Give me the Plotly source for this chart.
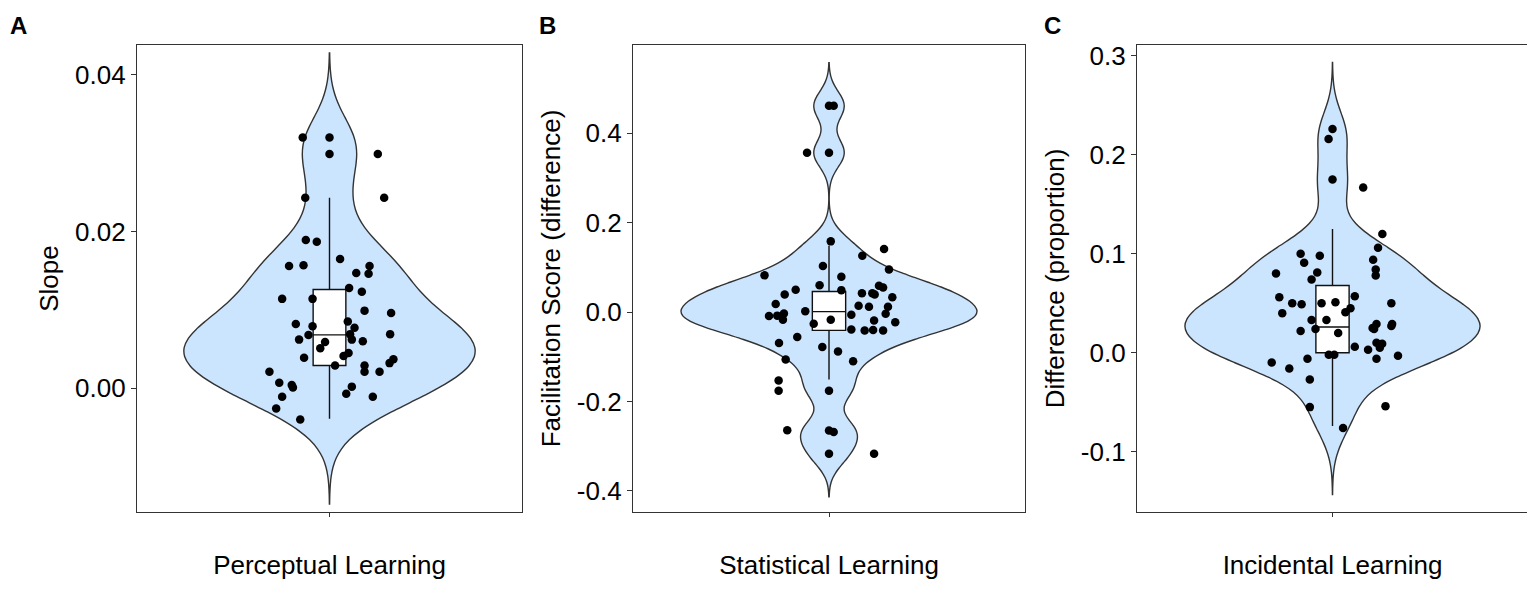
import numpy as np
import plotly.graph_objects as go

# ---------------- data ----------------
categories = ["Perceptual Learning", "Statistical Learning", "Incidental Learning"]
y_titles = ["Slope", "Facilitation Score (difference)", "Difference (proportion)"]
panel_letters = ["A", "B", "C"]

# Panel A: slope values and their horizontal jitter offsets
slope_vals = [0.0320, 0.0320, 0.0299, 0.0299, 0.0243, 0.0243, 0.0189, 0.0187, 0.0165,
              0.0156, 0.0157, 0.0156, 0.0147, 0.0146, 0.0128, 0.0123, 0.0114, 0.0114,
              0.0099, 0.0096, 0.0082, 0.0079, 0.0085, 0.0077, 0.0068, 0.0069, 0.0069,
              0.0062, 0.0062, 0.0060, 0.0059, 0.0051, 0.0045, 0.0041, 0.0039, 0.0037,
              0.0032, 0.0029, 0.0029, 0.0021, 0.0021, 0.0021, 0.0007, 0.0004, 0.0001,
              0.0002, -0.0007, -0.0011, -0.0011, -0.0026, -0.0040]
slope_jit = [-0.139, 0.0, 0.0, 0.251, -0.126, 0.284, -0.123, -0.066, 0.055,
             -0.210, -0.135, 0.208, 0.139, 0.203, 0.102, 0.168, -0.246, -0.088,
             0.182, 0.320, -0.175, -0.088, 0.095, 0.130, -0.109, 0.107, 0.315,
             -0.158, 0.116, 0.173, -0.023, -0.048, 0.099, 0.073, -0.132, 0.332,
             0.312, 0.029, 0.182, 0.182, -0.312, 0.260, -0.261, -0.196, -0.190,
             0.116, 0.087, -0.246, 0.225, -0.277, -0.152]

# Panel B: facilitation scores and jitter offsets
facil_vals = [0.461, 0.461, 0.356, 0.356, 0.158, 0.141, 0.126, 0.103, 0.095, 0.082,
              0.079, 0.060, 0.059, 0.055, 0.050, 0.049, 0.039, 0.042, 0.042, 0.039,
              0.033, 0.018, 0.014, 0.012, 0.012, 0.002, -0.006, -0.009, -0.008, -0.003,
              -0.017, -0.004, -0.017, -0.019, -0.023, -0.026, -0.039, -0.041, -0.040,
              -0.041, -0.056, -0.069, -0.078, -0.088, -0.106, -0.110, -0.153, -0.176,
              -0.176, -0.264, -0.265, -0.268, -0.317, -0.317]
facil_jit = [0.0, 0.024, 0.0, -0.112, 0.009, 0.281, 0.170, -0.031, 0.306, -0.329,
             0.063, -0.048, 0.255, 0.276, -0.170, 0.063, -0.226, 0.168, 0.221, 0.233,
             0.323, -0.272, 0.151, 0.204, 0.301, -0.121, 0.114, -0.306, -0.264, -0.230,
             -0.235, 0.289, 0.009, 0.230, 0.338, -0.078, 0.114, 0.182, 0.225,
             0.276, -0.162, -0.255, -0.034, 0.046, -0.221, 0.123, -0.257, -0.257,
             0.0, -0.213, 0.0, 0.024, 0.0, 0.230]

# Panel C: difference (proportion) and jitter offsets
diff_vals = [0.226, 0.216, 0.175, 0.167, 0.120, 0.106, 0.100, 0.098, 0.091, 0.094,
             0.084, 0.078, 0.080, 0.081, 0.074, 0.057, 0.056, 0.050, 0.049, 0.050,
             0.051, 0.050, 0.045, 0.041, 0.040, 0.033, 0.033, 0.029, 0.029, 0.025,
             0.024, 0.027, 0.022, 0.024, 0.020, 0.006, 0.010, 0.009, 0.005, 0.003,
             -0.002, -0.002, -0.003, -0.006, -0.006, -0.010, -0.016, -0.027, -0.055,
             -0.054, -0.076]
diff_jit = [0.0, -0.020, 0.0, 0.157, 0.255, 0.233, -0.163, -0.065, -0.145, 0.208,
            0.221, 0.221, -0.289, -0.078, -0.107, 0.114, -0.272, -0.206, -0.158, -0.056,
            0.015, 0.301, 0.092, 0.066, -0.257, -0.107, -0.031, 0.225, 0.305, 0.205,
            0.213, 0.301, -0.163, -0.087, 0.029, 0.114, 0.225, 0.254, 0.242, 0.182,
            -0.019, 0.009, 0.335, -0.128, 0.225, -0.311, -0.221, -0.116, -0.116,
            0.271, 0.054]

# Box statistics: q1, median, q3, lower whisker, upper whisker
box_q1 = [0.0029, -0.041, 0.000]
box_median = [0.0068, 0.001, 0.026]
box_q3 = [0.0126, 0.046, 0.068]
box_low = [-0.0039, -0.151, -0.074]
box_high = [0.0243, 0.148, 0.125]

# Axis ticks and ranges
y_tickvals = [[0.00, 0.02, 0.04], [-0.4, -0.2, 0.0, 0.2, 0.4], [-0.1, 0.0, 0.1, 0.2, 0.3]]
y_ticktext = [["0.00", "0.02", "0.04"], ["-0.4", "-0.2", "0.0", "0.2", "0.4"],
              ["-0.1", "0.0", "0.1", "0.2", "0.3"]]
y_ranges = [[-0.0158, 0.0438], [-0.447, 0.597], [-0.161, 0.311]]

values = [slope_vals, facil_vals, diff_vals]
jitters = [slope_jit, facil_jit, diff_jit]

# ---------------- styling ----------------
FONT = "Liberation Sans, Arial, sans-serif"
VIOLIN_FILL = "#cce5ff"
OUTLINE = "#333333"
W, H = 1535, 589
OFF = 8  # page body margin
frames_x = [(137, 522), (633, 1025), (1137, 1528)]
x_domains = [[(a - OFF) / W, min((b - OFF) / W, 1.0)] for a, b in frames_x]
y_domain = [1 - (512 - OFF) / H, 1 - (45 - OFF) / H]


def nrd0(v):
    v = np.asarray(v, dtype=float)
    sd = np.std(v, ddof=1)
    iqr = np.percentile(v, 75) - np.percentile(v, 25)
    lo = min(sd, iqr / 1.34)
    return 0.9 * lo * len(v) ** (-0.2)


fig = go.Figure()

for i in range(3):
    xa = "x" if i == 0 else f"x{i+1}"
    ya = "y" if i == 0 else f"y{i+1}"
    vals = values[i]
    bw = nrd0(vals)
    fig.add_trace(go.Violin(
        y=vals, x=[0.0] * len(vals), xaxis=xa, yaxis=ya,
        bandwidth=bw, spanmode="manual", span=[min(vals) - 3 * bw, max(vals) + 3 * bw],
        width=1.51, scalemode="width", points=False,
        fillcolor=VIOLIN_FILL, line=dict(color=OUTLINE, width=1.4),
        box_visible=False, meanline_visible=False, showlegend=False, hoverinfo="skip",
    ))
    fig.add_trace(go.Box(
        x=[0.0], q1=[box_q1[i]], median=[box_median[i]], q3=[box_q3[i]],
        lowerfence=[box_low[i]], upperfence=[box_high[i]],
        xaxis=xa, yaxis=ya, width=0.17, whiskerwidth=0,
        fillcolor="white", line=dict(color="#111111", width=1.4),
        boxpoints=False, showlegend=False, hoverinfo="skip",
    ))
    fig.add_trace(go.Scatter(
        x=jitters[i], y=vals, xaxis=xa, yaxis=ya, mode="markers",
        marker=dict(color="black", size=8.5), showlegend=False, hoverinfo="skip",
    ))

layout = dict(
    width=W, height=H,
    margin=dict(l=0, r=0, t=0, b=0),
    paper_bgcolor="white", plot_bgcolor="white",
    font=dict(family=FONT, color="black", size=26),
    violinmode="overlay", boxmode="overlay",
)

for i in range(3):
    xk = "xaxis" if i == 0 else f"xaxis{i+1}"
    yk = "yaxis" if i == 0 else f"yaxis{i+1}"
    ya_ref = "y" if i == 0 else f"y{i+1}"
    xa_ref = "x" if i == 0 else f"x{i+1}"
    layout[xk] = dict(
        domain=x_domains[i], anchor=ya_ref, range=[-1, 1],
        tickvals=[0], ticktext=[""], ticks="outside", ticklen=4, tickcolor=OUTLINE,
        showline=True, mirror=True, linecolor=OUTLINE, linewidth=1.3,
        showgrid=False, zeroline=False, automargin=False,
        title=dict(text=categories[i], font=dict(size=26, family=FONT), standoff=34),
    )
    layout[yk] = dict(
        domain=y_domain, anchor=xa_ref, range=y_ranges[i],
        tickvals=y_tickvals[i], ticktext=y_ticktext[i],
        ticks="outside", ticklen=5, tickcolor=OUTLINE,
        tickfont=dict(size=26, family=FONT),
        showline=True, mirror=True, linecolor=OUTLINE, linewidth=1.3,
        showgrid=False, zeroline=False, automargin=False,
        title=dict(text=y_titles[i], font=dict(size=26, family=FONT), standoff=8),
    )

fig.update_layout(**layout)

letter_x = [8, 537, 1042]
for i in range(3):
    fig.add_annotation(
        text=f"<b>{panel_letters[i]}</b>", xref="paper", yref="paper",
        x=(letter_x[i] - OFF) / W, y=1 - (10 - OFF) / H, xanchor="left", yanchor="top",
        showarrow=False, font=dict(size=24, family=FONT, color="black"),
    )

fig.write_html("out.html")
